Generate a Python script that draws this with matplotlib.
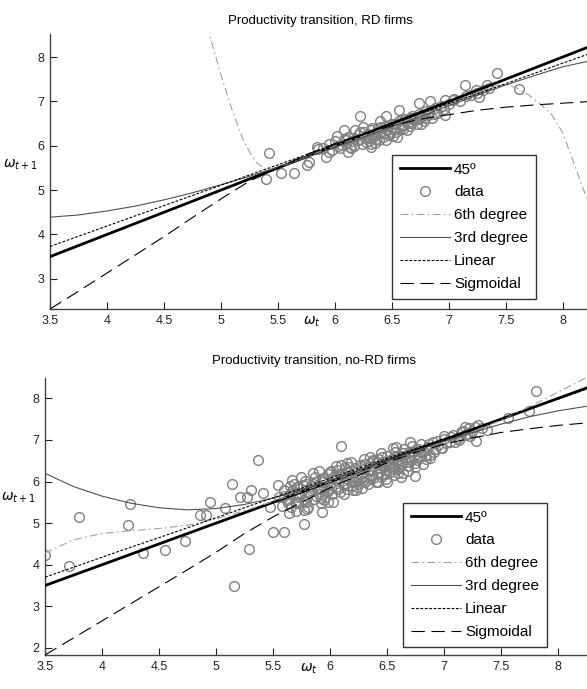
import matplotlib
matplotlib.use('Agg')
import matplotlib.pyplot as plt

plt.rcParams['font.family'] = ['Liberation Sans Narrow', 'Liberation Sans', 'DejaVu Sans']
plt.rcParams['mathtext.fontset'] = 'dejavusans'

# ---------------- RD firms (top) ----------------
rd_x = [5.42, 5.40, 5.53, 5.64, 5.76, 5.77, 5.84, 5.92, 5.95, 6.08, 6.12, 6.22, 6.35, 6.45,
        6.56, 6.66, 6.74, 6.84, 6.97, 7.04, 7.14, 7.24, 7.34, 7.42, 7.62, 7.27, 6.97, 6.76, 6.32,
        5.90, 5.95, 5.98, 6.00, 6.03, 6.05, 6.08, 6.10, 6.12, 6.15, 6.17, 6.20, 6.22, 6.24,
        6.26, 6.28, 6.30, 6.32, 6.34, 6.36, 6.38, 6.40, 6.42, 6.44, 6.46, 6.48, 6.50, 6.52,
        6.54, 6.56, 6.58, 6.60, 6.62, 6.64, 6.66, 6.68, 6.70, 6.72, 6.74, 6.76, 6.78, 6.80,
        6.82, 6.85, 6.88, 6.90, 6.93, 6.96, 7.00, 7.05, 7.10, 7.15, 7.20, 7.25, 7.30, 7.35,
        6.18, 6.32, 6.40, 6.55, 6.25, 6.45, 5.85, 6.02, 6.14,
        6.20, 6.22, 6.27, 6.29, 6.31, 6.33, 6.35, 6.37, 6.39, 6.41, 6.43, 6.47, 6.49, 6.51,
        6.53, 6.57, 6.59, 6.61, 6.63, 6.67, 6.69, 6.73, 6.77, 6.79, 6.83, 6.87, 6.10, 6.06,
        6.13, 6.16]
rd_y = [5.83, 5.24, 5.39, 5.38, 5.57, 5.64, 5.98, 5.74, 5.87, 6.36, 5.87, 6.66, 6.06, 6.66,
        6.81, 6.62, 6.96, 7.00, 7.03, 7.03, 7.37, 7.26, 7.37, 7.63, 7.28, 7.10, 6.69, 6.50, 5.98,
        5.95, 6.05, 5.90, 6.10, 6.00, 5.95, 6.15, 6.05, 6.20, 6.10, 6.00, 6.25, 6.15, 6.05,
        6.30, 6.20, 6.10, 6.35, 6.25, 6.15, 6.40, 6.30, 6.20, 6.45, 6.35, 6.25, 6.50, 6.40,
        6.30, 6.55, 6.45, 6.38, 6.60, 6.52, 6.45, 6.68, 6.58, 6.50, 6.72, 6.64, 6.56, 6.78,
        6.70, 6.62, 6.85, 6.75, 6.90, 6.82, 6.95, 7.05, 7.00, 7.12, 7.15, 7.20, 7.25, 7.30,
        6.35, 6.05, 6.55, 6.20, 6.42, 6.12, 5.92, 6.22, 5.96,
        6.12, 6.30, 6.08, 6.26, 6.18, 6.40, 6.22, 6.32, 6.12, 6.42, 6.28, 6.44, 6.32, 6.22,
        6.48, 6.38, 6.58, 6.46, 6.36, 6.52, 6.62, 6.60, 6.70, 6.62, 6.76, 6.72, 6.12, 6.02,
        5.98, 6.18]

rd_fit_x = [3.5, 3.75, 4.0, 4.25, 4.5, 4.75, 5.0, 5.25, 5.5, 5.75, 6.0, 6.25, 6.5,
            6.75, 7.0, 7.25, 7.5, 7.75, 8.0, 8.25]
rd_cubic = [4.39, 4.44, 4.53, 4.64, 4.78, 4.94, 5.12, 5.31, 5.52, 5.74, 5.96, 6.19, 6.43,
            6.66, 6.90, 7.14, 7.37, 7.58, 7.78, 7.92]
rd_sigm = [2.32, 2.72, 3.13, 3.54, 3.95, 4.38, 4.80, 5.20, 5.50, 5.80, 6.05, 6.27, 6.45,
           6.60, 6.70, 6.80, 6.87, 6.92, 6.96, 7.00]
rd_lin = [3.73, 3.96, 4.19, 4.42, 4.65, 4.88, 5.11, 5.34, 5.57, 5.80, 6.03, 6.26, 6.49,
          6.72, 6.95, 7.17, 7.40, 7.63, 7.86, 8.09]
rd_six_x = [4.88, 5.0, 5.1, 5.2, 5.3, 5.4, 5.5, 5.75, 6.0, 6.25, 6.5, 6.75, 7.0, 7.25,
            7.4, 7.5, 7.6, 7.7, 7.8, 7.9, 8.0, 8.1, 8.2, 8.25]
rd_six = [8.7, 7.6, 6.8, 6.1, 5.65, 5.45, 5.5, 5.75, 6.0, 6.22, 6.45, 6.68, 6.92, 7.18,
          7.35, 7.38, 7.30, 7.15, 6.95, 6.72, 6.30, 5.60, 4.90, 4.60]

# ---------------- no-RD firms (bottom) ----------------
nrd_x = [3.50, 3.71, 3.80, 4.23, 4.25, 4.36, 4.55, 4.73, 4.86, 4.95, 4.91, 5.08, 5.14, 5.16,
         5.29, 5.37, 5.27, 5.50, 5.60, 5.77, 5.77, 5.93, 6.10, 6.03, 6.75, 6.88, 6.98, 7.28,
         7.38, 7.56, 7.75, 7.81, 7.18, 7.00, 6.64, 6.49, 6.23, 5.93, 5.67, 5.54, 5.41, 5.31,
         5.21, 5.47, 5.64, 5.70,
         5.55, 5.58, 5.60, 5.62, 5.65, 5.66, 5.68, 5.70, 5.72, 5.74, 5.75, 5.77, 5.78, 5.80,
         5.81, 5.83, 5.84, 5.86, 5.87, 5.89, 5.90, 5.92, 5.93, 5.95, 5.96, 5.98, 5.99, 6.00,
         6.02, 6.03, 6.05, 6.06, 6.08, 6.09, 6.11, 6.12, 6.14, 6.15, 6.17, 6.18, 6.20, 6.21,
         6.23, 6.24, 6.26, 6.27, 6.29, 6.30, 6.32, 6.33, 6.35, 6.36, 6.38, 6.39, 6.41, 6.42,
         6.44, 6.45, 6.47, 6.48, 6.50, 6.51, 6.53, 6.54, 6.56, 6.57, 6.59, 6.60, 6.62, 6.63,
         6.65, 6.66, 6.68, 6.69, 6.71, 6.72, 6.74, 6.75, 6.77, 6.78, 6.80, 6.82, 6.84, 6.86,
         6.88, 6.90, 6.92, 6.95, 7.00, 7.05, 7.08, 7.12, 7.15, 7.20, 7.22, 7.25, 7.30, 7.33,
         7.10, 7.18, 5.65, 5.70, 5.85, 5.95, 6.10, 6.20, 6.35, 6.40, 6.55, 6.60, 6.70, 6.75,
         5.88, 6.01, 6.13, 6.27, 6.38, 6.52, 6.64, 5.79, 6.46, 6.31,
         5.60, 5.63, 5.67, 5.69, 5.71, 5.73, 5.76, 5.79, 5.82, 5.85, 5.88, 5.91, 5.94, 5.97,
         6.00, 6.01, 6.04, 6.07, 6.10, 6.13, 6.16, 6.19, 6.22, 6.25, 6.28, 6.31, 6.34, 6.37,
         6.40, 6.43, 6.46, 6.49, 6.52, 6.55, 6.58, 6.61, 6.64, 6.67, 6.70, 6.73, 6.76, 6.79,
         6.83, 6.87, 6.91, 6.94, 6.97, 7.02, 7.06, 7.13, 7.17, 7.23, 7.27, 5.75, 5.90, 6.05,
         6.18, 6.30, 6.45, 6.58, 5.80, 5.98, 6.12, 6.28, 6.42, 6.56, 6.68, 6.82, 6.62, 6.15,
         6.25, 6.35, 6.48, 6.05, 5.92, 6.60, 6.50, 6.38, 6.22]
nrd_y = [4.24, 3.96, 5.15, 4.95, 5.47, 4.28, 4.36, 4.56, 5.20, 5.50, 5.20, 5.36, 5.95, 3.50,
         4.39, 6.53, 5.64, 4.78, 4.78, 4.98, 5.32, 5.27, 6.85, 5.52, 6.13, 6.57, 6.81, 6.97,
         7.25, 7.53, 7.69, 8.17, 7.13, 7.09, 6.20, 6.06, 5.80, 6.04, 6.04, 5.92, 5.72, 5.80,
         5.64, 5.40, 5.24, 5.48,
         5.62, 5.41, 5.80, 5.55, 5.70, 5.38, 5.95, 5.62, 5.48, 5.85, 5.72, 5.55, 6.02, 5.66,
         5.40, 5.90, 5.78, 5.58, 6.10, 5.84, 5.70, 5.48, 6.00, 5.88, 5.62, 6.18, 5.80, 5.95,
         5.70, 6.12, 5.86, 6.28, 6.02, 5.75, 6.20, 5.92, 6.08, 5.82, 6.35, 6.15, 5.98, 6.26,
         6.05, 5.88, 6.40, 6.18, 6.02, 6.30, 6.12, 5.95, 6.45, 6.25, 6.08, 6.38, 6.20, 6.55,
         6.32, 6.10, 6.48, 6.28, 6.62, 6.40, 6.22, 6.55, 6.35, 6.70, 6.48, 6.30, 6.62, 6.45,
         6.78, 6.55, 6.38, 6.70, 6.52, 6.85, 6.62, 6.45, 6.78, 6.60, 6.90, 6.70, 6.55, 6.82,
         6.65, 6.95, 6.78, 6.88, 7.02, 6.95, 7.12, 7.05, 7.20, 7.15, 7.28, 7.22, 7.35, 7.28,
         6.95, 7.30, 5.90, 5.30, 6.20, 5.55, 6.40, 5.80, 6.60, 6.00, 6.80, 6.20, 6.95, 6.35,
         6.00, 6.25, 6.32, 6.10, 6.52, 6.36, 6.58, 5.95, 6.60, 6.42,
         5.65, 5.48, 5.78, 5.52, 5.88, 5.66, 5.92, 5.50, 5.74, 5.95, 5.65, 5.82, 6.08, 5.74,
         6.22, 5.85, 6.05, 5.82, 6.15, 5.96, 6.22, 5.90, 6.32, 6.10, 6.38, 6.00, 6.28, 6.15,
         6.45, 6.22, 6.38, 6.18, 6.50, 6.30, 6.62, 6.38, 6.68, 6.46, 6.60, 6.72, 6.52, 6.74,
         6.62, 6.90, 6.70, 6.98, 6.80, 6.92, 7.08, 7.00, 7.22, 7.10, 7.30, 6.10, 6.25, 6.38,
         6.48, 6.55, 6.68, 6.82, 5.35, 5.50, 5.70, 5.85, 5.98, 6.15, 6.25, 6.42, 6.12, 6.45,
         5.95, 6.05, 6.40, 6.15, 5.60, 6.55, 6.00, 6.50, 6.02]

nrd_fit_x = [3.5, 3.75, 4.0, 4.25, 4.5, 4.75, 5.0, 5.25, 5.5, 5.75, 6.0, 6.25, 6.5,
             6.75, 7.0, 7.25, 7.5, 7.75, 8.0, 8.25, 8.3]
nrd_cubic = [6.20, 5.88, 5.65, 5.48, 5.37, 5.32, 5.35, 5.45, 5.60, 5.80, 6.03, 6.27, 6.50,
             6.74, 6.97, 7.18, 7.38, 7.56, 7.70, 7.81, 7.83]
nrd_six = [4.28, 4.60, 4.75, 4.82, 4.87, 4.95, 5.10, 5.30, 5.52, 5.76, 6.00, 6.24, 6.48,
           6.72, 6.96, 7.20, 7.47, 7.80, 8.15, 8.50, 8.58]
nrd_lin = [3.70, 3.94, 4.18, 4.42, 4.65, 4.89, 5.13, 5.37, 5.61, 5.84, 6.08, 6.32, 6.56,
           6.80, 7.03, 7.27, 7.51, 7.75, 7.98, 8.22, 8.27]
nrd_sigm = [1.83, 2.24, 2.65, 3.06, 3.47, 3.88, 4.30, 4.75, 5.15, 5.50, 5.85, 6.15, 6.45,
            6.70, 6.90, 7.05, 7.18, 7.27, 7.35, 7.41, 7.42]

diag = [3.5, 8.5]

fig = plt.figure(figsize=(5.87, 6.89), dpi=100)
W, H = 587.0, 689.0
ax1 = fig.add_axes([50 / W, 1 - 309 / H, 539 / W, 275 / H])
ax2 = fig.add_axes([45 / W, 1 - 655 / H, 544 / W, 277 / H])

panels = [
    (ax1, rd_x, rd_y, rd_six_x, rd_six, rd_fit_x, rd_cubic, rd_lin, rd_sigm,
     (3.5, 8.232), (2.32, 8.52), [3, 4, 5, 6, 7, 8],
     'Productivity transition, RD firms', 320, 21, (392, 155, 537, 298)),
    (ax2, nrd_x, nrd_y, nrd_fit_x, nrd_six, nrd_fit_x, nrd_cubic, nrd_lin, nrd_sigm,
     (3.5, 8.272), (1.83, 8.49), [2, 3, 4, 5, 6, 7, 8],
     'Productivity transition, no-RD firms', 314, 361, (403, 503, 546, 642)),
]

for (ax, sx, sy, six_x, six, fx, cub, lin, sig, xl, yl, yt,
     title, tx, ty, box) in panels:
    h45, = ax.plot(diag, diag, color='black', lw=2.0, zorder=3)
    hd, = ax.plot(sx, sy, 'o', ls='none', mfc='none', mec='#808080', ms=7, mew=1.0,
                  zorder=2)
    h6, = ax.plot(six_x, six, color='#a0a0a0', lw=0.8, dashes=(7, 3, 1.5, 3), zorder=3)
    h3, = ax.plot(fx, cub, color='#505050', lw=0.8, zorder=3)
    hl, = ax.plot(fx, lin, color='black', lw=0.8, dashes=(2.5, 1.5), zorder=3)
    hs, = ax.plot(fx, sig, color='black', lw=0.8, dashes=(12, 6), zorder=3)

    ax.set_xlim(*xl)
    ax.set_ylim(*yl)
    ax.set_xticks([3.5, 4, 4.5, 5, 5.5, 6, 6.5, 7, 7.5, 8])
    ax.set_xticklabels(['3.5', '4', '4.5', '5', '5.5', '6', '6.5', '7', '7.5', '8'])
    ax.set_yticks(yt)
    ax.tick_params(direction='in', length=5, width=0.8, labelsize=9, colors='#222222',
                   pad=4)
    for s in ['top', 'right']:
        ax.spines[s].set_visible(False)
    for s in ['left', 'bottom']:
        ax.spines[s].set_color('#444444')
        ax.spines[s].set_linewidth(1.0)

    fig.text(tx / W, 1 - ty / H, title, ha='center', va='center', fontsize=9.5)

    leg = ax.legend([h45, hd, h6, h3, hl, hs],
                    ['45º', 'data', '6th degree', '3rd degree', 'Linear', 'Sigmoidal'],
                    loc='upper left', bbox_to_anchor=(box[0] / W, 1 - box[1] / H),
                    bbox_transform=fig.transFigure, borderaxespad=0, fancybox=False,
                    framealpha=1, edgecolor='#333333', fontsize=11, handlelength=3.3,
                    handletextpad=0.26, labelspacing=0.58, borderpad=0.5, numpoints=1)
    leg.get_frame().set_linewidth(1.0)

ax1.set_xlabel(r'$\omega_t$', fontsize=10)
ax1.xaxis.set_label_coords((312 - 50) / 539, -0.02)
ax1.set_ylabel(r'$\omega_{t+1}$', fontsize=10, rotation=0)
ax1.yaxis.set_label_coords(-0.055, 0.5)
ax2.set_xlabel(r'$\omega_t$', fontsize=10)
ax2.xaxis.set_label_coords((309 - 45) / 544, -0.025)
ax2.set_ylabel(r'$\omega_{t+1}$', fontsize=10, rotation=0)
ax2.yaxis.set_label_coords(-0.05, 0.54)

fig.savefig('out.png', dpi=100)
